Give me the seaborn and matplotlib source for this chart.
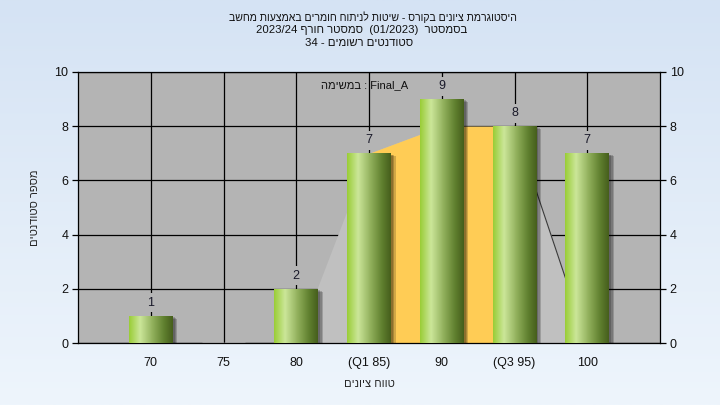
import re
import numpy as np
import pandas as pd
import matplotlib
matplotlib.use("Agg")
import matplotlib.pyplot as plt
import matplotlib.patheffects as pe
from matplotlib.colors import LinearSegmentedColormap
import seaborn as sns

# data
categories = ["70", "75", "80", "(Q1 85)", "90", "(Q3 95)", "100"]
counts = [1, 0, 2, 7, 9, 8, 7]
curve = [0, 0, 0, 7, 8, 8, 0]          # background distribution area
q_range = (3, 5)                       # Q1..Q3 index range (orange band)

title_lines = [
    "היסטוגרמת ציונים בקורס - שיטות לניתוח חומרים באמצעות מחשב",
    "בסמסטר  (01/2023)  סמסטר חורף 2023/24",
    "סטודנטים רשומים - 34",
]
task_label = "Final_A : במשימה"
x_title = "טווח ציונים"
y_title = "מספר סטודנטים"


def rtl(s):
    # matplotlib has no bidi support: lay the logical string out right-to-left
    tokens = re.findall(r"[A-Za-z0-9_/.]+|[\u0590-\u05FF]+|.", s)
    mirror = {"(": ")", ")": "("}
    out = []
    for t in reversed(tokens):
        if re.match(r"[\u0590-\u05FF]", t):
            out.append(t[::-1])
        else:
            out.append(mirror.get(t, t))
    return "".join(out)


sns.set_style("white")
plt.rcParams["font.family"] = ["Liberation Sans", "DejaVu Sans"]
plt.rcParams["font.size"] = 9

fig = plt.figure(figsize=(7.2, 4.05), dpi=100)

# light blue page gradient
bg = fig.add_axes([0, 0, 1, 1], zorder=-10)
grad = np.linspace(0, 1, 256)[:, None]
bg_cmap = LinearSegmentedColormap.from_list("bg", ["#d5e3f4", "#eef5fc"])
bg.imshow(grad, aspect="auto", cmap=bg_cmap, extent=[0, 1, 0, 1])
bg.set_axis_off()

plot_bg = "#b4b4b4"
ax = fig.add_axes([78 / 720, 62 / 405, 582 / 720, 271 / 405])
ax.set_facecolor(plot_bg)

df = pd.DataFrame({"grade": categories, "count": counts})
x = np.arange(len(categories))

ax.fill_between(x, curve, color="#c0c0c0", lw=0, zorder=1)
lo, hi = q_range
ax.fill_between(x[lo:hi + 1], curve[lo:hi + 1], color="#ffcc55", lw=0, zorder=1.1)
ax.plot(x[hi:hi + 2], curve[hi:hi + 2], color="#3a3a3a", lw=0.8, zorder=1.2)

sns.barplot(data=df, x="grade", y="count", order=categories, width=0.6,
            color="#9fce3c", ax=ax, zorder=3, saturation=1)

# grid under everything (after barplot, which switches the x grid off)
ax.set_axisbelow(True)
ax.grid(True, axis="both", color="black", lw=0.9)

bar_cmap = LinearSegmentedColormap.from_list(
    "bar", [(0, "#9acd36"), (0.25, "#cbe699"), (0.55, "#8fae5a"),
            (0.8, "#60802f"), (1, "#465e1c")])
hgrad = np.linspace(0, 1, 128)[None, :]
shadow = [pe.SimplePatchShadow(offset=(d, -0.6 * d), shadow_rgbFace="black", alpha=0.18)
          for d in (1.5, 2.5, 3.5)] + [pe.Normal()]
for p in ax.patches:
    if p.get_height() <= 0:
        continue
    p.set_linewidth(0)
    p.set_path_effects(shadow)
    im = ax.imshow(hgrad, aspect="auto", cmap=bar_cmap, zorder=3.5,
                   extent=[p.get_x(), p.get_x() + p.get_width(), 0, p.get_height()])
    im.set_clip_path(p)

labels = ax.bar_label(ax.containers[0], labels=[str(v) if v else "" for v in counts],
                      padding=5, fontsize=9, color="#1a1a2a", zorder=5)
for t in labels:
    if t.get_text():
        t.set_bbox(dict(facecolor=plot_bg, edgecolor="none", pad=2.5))

ax.set_xlim(-1, len(categories))
ax.set_ylim(0, 10)
ax.set_yticks(range(0, 11, 2))
ax.set_xticks(x)
ax.set_xticks([-1], minor=True)
ax.set_xticklabels(categories)
ax.tick_params(axis="both", which="both", direction="out", length=4, width=0.9,
               color="black", labelsize=9, labelcolor="#111111", pad=3)
ax.tick_params(axis="x", pad=6)
for s in ax.spines.values():
    s.set_color("black")
    s.set_linewidth(0.9)

ax2 = ax.twinx()
ax2.set_ylim(0, 10)
ax2.set_yticks(range(0, 11, 2))
ax2.tick_params(axis="y", direction="out", length=4, width=0.9, color="black",
                labelsize=9, labelcolor="#111111", pad=3)
for s in ax2.spines.values():
    s.set_visible(False)

ax.set_xlabel(rtl(x_title), fontsize=8, labelpad=7)
ax.set_ylabel(rtl(y_title), fontsize=8, labelpad=10)

ax.text(0.5 - 4 / 582, 0.95, rtl(task_label), transform=ax.transAxes, ha="center",
        va="center", fontsize=8, color="#111111", zorder=6)

title_sizes = [7.6, 8.2, 8.2]
title_x = [373, 362, 359]
for i, line in enumerate(title_lines):
    fig.text(title_x[i] / 720, 1 - (17 + 13 * i) / 405, rtl(line), ha="center",
             va="center", fontsize=title_sizes[i], color="#111111")

fig.savefig("out.png", dpi=100)
